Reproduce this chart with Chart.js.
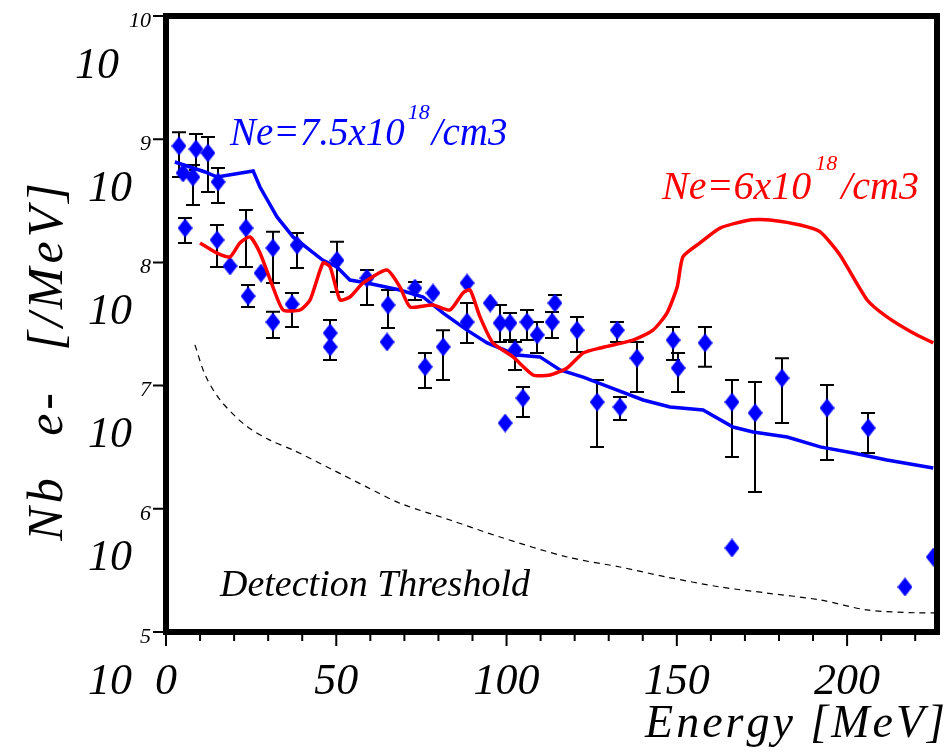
<!DOCTYPE html>
<html><head><meta charset="utf-8">
<script src="https://cdn.jsdelivr.net/npm/chart.js@4"></script>
<style>html,body{margin:0;padding:0;background:#fff;overflow:hidden}</style>
</head><body>
<canvas id="c" width="951" height="754"></canvas>
<script>
// ---- data ----
const xTickVals = [0,10,20,30,40,50,60,70,80,90,100,110,120,130,140,150,160,170,180,190,200,210,220];
const yTickExp = [5,6,7,8,9,10];

// simulation Ne = 7.5e18 /cm3 (blue)
const simBlueE = [2.6,11.5,15.0,25.6,27.6,32.6,37.3,46.1,50.2,54.0,59.0,68.7,75.5,81.4,88.4,94.3,103.1,109.8,115.7,122.5,132.5,140.1,148.0,157.7,166.5,172.4,182.4,192.1,201.8,211.7,225.3];
const simBlueN = [6.53e8,5.42e8,4.93e8,5.52e8,4.09e8,2.34e8,1.61e8,1.04e8,9.18e7,7.19e7,6.81e7,5.97e7,5.24e7,3.88e7,2.82e7,2.22e7,1.77e7,1.71e7,1.34e7,1.17e7,9.2e6,7.64e6,6.70e6,6.34e6,4.61e6,4.20e6,3.83e6,3.18e6,2.84e6,2.49e6,2.14e6];

// simulation Ne = 6e18 /cm3 (red)
const simRedE = [10.0,15.0,18.8,21.7,24.7,27.6,31.4,34.4,39.4,42.3,46.1,48.2,51.1,54.0,57.9,64.9,68.7,71.7,78.4,83.4,87.2,89.3,92.2,96.0,101.9,107.8,112.8,117.8,122.5,127.5,137.1,143.0,147.1,150.1,151.8,156.8,162.7,171.5,177.4,186.2,192.1,197.9,205.9,211.7,219.4,225.3];
const simRedN = [1.44e8,1.19e8,1.11e8,1.44e8,1.61e8,1.19e8,6.31e7,4.11e7,4.11e7,4.95e7,9.89e7,9.18e7,4.95e7,5.24e7,6.81e7,8.67e7,6.31e7,4.35e7,4.51e7,4.11e7,5.65e7,5.97e7,3.61e7,2.22e7,1.71e7,1.22e7,1.22e7,1.39e7,1.84e7,2.02e7,2.34e7,2.82e7,3.88e7,6.31e7,1.11e8,1.44e8,1.90e8,2.21e8,2.21e8,2.01e8,1.77e8,1.15e8,4.95e7,3.61e7,2.67e7,2.22e7];

// detection threshold (dashed)
const thrE = [8.5,11.5,15.9,23.2,30.5,37.3,49.0,59.0,68.7,83.4,98.1,117.8,133.3,147.1,162.7,176.5,192.1,205.9,220.6,226.4];
const thrN = [2.14e7,1.22e7,7.64e6,4.79e6,3.61e6,3.00e6,2.07e6,1.50e6,1.11e6,8.11e5,5.90e5,4.06e5,3.37e5,2.79e5,2.32e5,2.07e5,1.82e5,1.51e5,1.43e5,1.43e5];

// measured spectrum (blue diamonds) with error bars (null = no bar)
const dataE  = [3.8,5.0,8.8,7.9,12.3,15.3,5.6,15.0,18.8,23.5,24.1,27.9,31.4,31.4,37.0,38.5,50.2,48.2,48.2,59.0,65.2,64.9,73.1,78.4,76.1,81.4,88.4,88.4,95.2,98.1,101.0,106.0,109.0,102.5,104.8,99.6,114.2,113.4,120.7,132.5,126.6,133.3,138.3,148.9,150.4,158.3,166.2,173.0,180.9,194.1,206.2,166.2,217.0,225.3];
const dataN  = [8.81e8,5.32e8,8.32e8,4.93e8,7.73e8,4.50e8,1.90e8,1.52e8,9.35e7,1.90e8,5.33e7,8.20e7,1.31e8,3.28e7,4.59e7,1.38e8,1.04e8,2.67e7,2.06e7,7.46e7,4.51e7,2.26e7,6.19e7,5.65e7,1.42e7,2.06e7,6.81e7,3.28e7,4.68e7,3.22e7,3.22e7,3.28e7,2.58e7,1.95e7,7.93e6,4.97e6,4.68e7,3.28e7,2.82e7,2.82e7,7.36e6,6.70e6,1.67e7,2.34e7,1.39e7,2.22e7,7.36e6,6.00e6,1.15e7,6.58e6,4.53e6,4.81e5,2.32e5,4.06e5];
const dataHi = [1.14e9,null,1.10e9,6.18e8,1.04e9,5.83e8,2.29e8,2.01e8,null,2.66e8,6.56e7,null,1.77e8,3.98e7,5.65e7,1.73e8,1.47e8,3.40e7,null,8.67e7,5.97e7,null,6.93e7,null,1.84e7,2.82e7,null,4.68e7,null,4.51e7,3.88e7,4.11e7,3.28e7,2.26e7,9.75e6,null,5.43e7,3.95e7,3.61e7,3.28e7,1.11e7,8.07e6,2.26e7,2.99e7,1.84e7,2.99e7,1.11e7,1.07e7,1.67e7,1.01e7,6.00e6,null,null,null];
const dataLo = [4.93e8,null,5.62e8,2.92e8,3.72e8,3.03e8,1.44e8,9.18e7,null,9.18e7,4.35e7,null,6.81e7,2.43e7,2.99e7,9.02e7,5.75e7,null,1.61e7,4.51e7,2.94e7,null,4.95e7,null,9.57e6,1.11e7,null,2.22e7,null,2.26e7,2.34e7,2.34e7,1.84e7,1.34e7,5.56e6,null,null,2.43e7,1.87e7,2.26e7,3.18e6,5.26e6,8.87e6,1.61e7,8.87e6,1.42e7,2.63e6,1.37e6,4.97e6,2.49e6,2.84e6,null,null,null];

const labelBlue = ["Ne=7.5x10", "18", "/cm3"];
const labelRed  = ["Ne=6x10", "18", "/cm3"];
const labelThr  = "Detection Threshold";
const xTitle = "Energy [MeV]";
const yTitle = "Nb e- [/MeV]";

// ---- rendering ----
const SERIF = "'Liberation Serif','DejaVu Serif',serif";
const BLUE = '#0000ff', RED = '#ff0000';
const zip = (a,b) => a.map((v,i)=>({x:v,y:b[i]}));

const diamond = document.createElement('canvas');
diamond.width = 15; diamond.height = 19;
(function(){const g=diamond.getContext('2d');g.fillStyle=BLUE;g.beginPath();g.moveTo(7.5,0);g.lineTo(15,9.5);g.lineTo(7.5,19);g.lineTo(0,9.5);g.closePath();g.fill();})();

const errorBars = {
  id:'errorBars',
  beforeDatasetsDraw(chart){
    const {ctx, chartArea:ca, scales:{x,y}} = chart;
    ctx.save();
    ctx.beginPath(); ctx.rect(ca.left,ca.top,ca.right-ca.left,ca.bottom-ca.top); ctx.clip();
    ctx.strokeStyle='#000'; ctx.lineWidth=2;
    ctx.beginPath();
    dataE.forEach((e,i)=>{
      const hi=dataHi[i], lo=dataLo[i];
      if(hi==null && lo==null) return;
      const px=Math.round(x.getPixelForValue(e)), py=y.getPixelForValue(dataN[i]);
      const pt= hi!=null? y.getPixelForValue(hi):py;
      const pb= lo!=null? y.getPixelForValue(lo):py;
      ctx.moveTo(px,pt); ctx.lineTo(px,pb);
      if(hi!=null){ctx.moveTo(px-7,pt);ctx.lineTo(px+7,pt);}
      if(lo!=null){ctx.moveTo(px-7,pb);ctx.lineTo(px+7,pb);}
    });
    ctx.stroke();
    ctx.restore();
  }
};

function drawSpaced(ctx, text, x, y, spacing, wordGap){
  let cx = x;
  for(const ch of text){ ctx.fillText(ch, cx, y); cx += ctx.measureText(ch).width + spacing + (ch===' '?wordGap:0); }
  return cx;
}
function spacedWidth(ctx, text, spacing, wordGap){
  let w=0; for(const ch of text){ w += ctx.measureText(ch).width + spacing + (ch===' '?wordGap:0); } return w - spacing;
}

const decor = {
  id:'decor',
  afterDraw(chart){
    const {ctx, chartArea:ca, scales:{x,y}} = chart;
    ctx.save();
    // frame
    ctx.strokeStyle='#000'; ctx.lineWidth=6;
    ctx.strokeRect(ca.left, ca.top, ca.right-ca.left, ca.bottom-ca.top);
    // x ticks
    ctx.lineWidth=2;
    ctx.beginPath();
    xTickVals.forEach(v=>{
      const px=x.getPixelForValue(v);
      const len = v%50===0 ? 12 : 7;
      ctx.moveTo(px, ca.bottom+2); ctx.lineTo(px, ca.bottom+2+len);
    });
    // y ticks
    yTickExp.forEach(e=>{
      const py=y.getPixelForValue(Math.pow(10,e));
      ctx.moveTo(ca.left-3, py); ctx.lineTo(ca.left-13, py);
    });
    ctx.stroke();
    // big "10" base of each decade label
    ctx.fillStyle='#000';
    ctx.font = "italic 44px "+SERIF;
    ctx.textAlign='right'; ctx.textBaseline='middle';
    yTickExp.forEach(e=>{
      const py=y.getPixelForValue(Math.pow(10,e));
      ctx.fillText("10", ca.left-(e===10?47:34), py+50);
    });
    // axis titles
    ctx.textBaseline='alphabetic';
    ctx.textAlign='left';
    ctx.font = "italic 46px "+SERIF;
    const xw = spacedWidth(ctx, xTitle, 3, 0);
    drawSpaced(ctx, xTitle, ca.right+8-xw, 737, 3, 0);
    ctx.save();
    ctx.font = "italic 50px "+SERIF;
    ctx.translate(62, 362); ctx.rotate(-Math.PI/2);
    const yw = spacedWidth(ctx, yTitle, 4, 22);
    drawSpaced(ctx, yTitle, -yw/2, 0, 4, 22);
    ctx.restore();
    // annotations
    ctx.font = "italic 39px "+SERIF;
    ctx.fillStyle = BLUE;
    let cx = ca.left+64;
    ctx.fillText(labelBlue[0], cx, 145); cx += ctx.measureText(labelBlue[0]).width+3;
    ctx.font = "italic 22px "+SERIF; ctx.fillText(labelBlue[1], cx, 119); cx += ctx.measureText(labelBlue[1]).width+2;
    ctx.font = "italic 39px "+SERIF; ctx.fillText(labelBlue[2], cx, 145);
    ctx.fillStyle = RED;
    cx = 662;
    ctx.font = "italic 40px "+SERIF;
    ctx.fillText(labelRed[0], cx, 199); cx += ctx.measureText(labelRed[0]).width+4;
    ctx.font = "italic 22px "+SERIF; ctx.fillText(labelRed[1], cx, 170); cx += ctx.measureText(labelRed[1]).width+4;
    ctx.font = "italic 40px "+SERIF; ctx.fillText(labelRed[2], cx, 199);
    ctx.fillStyle='#000';
    ctx.font = "italic 38px "+SERIF;
    ctx.fillText(labelThr, 220, 596);
    ctx.restore();
  }
};

new Chart(document.getElementById('c'), {
  type:'scatter',
  data:{ datasets:[
    {label:'thr', data:zip(thrE,thrN), showLine:true, borderColor:'#000', borderWidth:1.2, borderDash:[6,5], pointRadius:0, tension:0.3, fill:false},
    {label:'red', data:zip(simRedE,simRedN), showLine:true, borderColor:RED, borderWidth:3.5, pointRadius:0, tension:0.2, fill:false},
    {label:'blue', data:zip(simBlueE,simBlueN), showLine:true, borderColor:BLUE, borderWidth:3.5, pointRadius:0, fill:false},
    {label:'data', data:zip(dataE,dataN), showLine:false, pointStyle:diamond, pointRadius:8, backgroundColor:BLUE, borderColor:BLUE}
  ]},
  options:{
    responsive:false, animation:false, devicePixelRatio:1,
    layout:{padding:{left:0,top:16,right:14,bottom:0}},
    plugins:{legend:{display:false}, tooltip:{enabled:false}},
    scales:{
      x:{type:'linear', min:0, max:226.4,
        afterBuildTicks:s=>{ s.ticks = xTickVals.map(v=>({value:v})); },
        afterFit:s=>{ s.height = 122; s.paddingLeft=0; s.paddingRight=0; },
        grid:{display:false, drawTicks:false}, border:{display:false},
        ticks:{autoSkip:false, maxRotation:0, padding:24, color:'#000',
          font:{family:SERIF, size:44, style:'italic'},
          callback:v=> v%50===0 ? String(v) : ''}
      },
      y:{type:'logarithmic', min:1e5, max:1e10,
        afterBuildTicks:s=>{ s.ticks = yTickExp.map(e=>({value:Math.pow(10,e)})); },
        afterFit:s=>{ s.width = 166; s.paddingTop=0; s.paddingBottom=0; },
        grid:{display:false, drawTicks:false}, border:{display:false},
        ticks:{autoSkip:false, padding:15, labelOffset:5, color:'#000',
          font:{family:SERIF, size:22, style:'italic'},
          callback:v=> String(Math.round(Math.log10(v)))}
      }
    }
  },
  plugins:[errorBars, decor]
});
</script>
</body></html>
